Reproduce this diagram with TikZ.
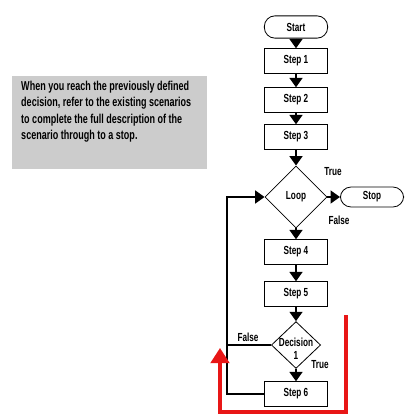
\documentclass[tikz,border=0pt]{standalone}
\usepackage{fontspec}
\newfontfamily\chartfont{Liberation Sans}[FakeStretch=0.7]
\usepackage{xcolor}
\usepackage{tikz}
\usetikzlibrary{arrows.meta}
\usetikzlibrary{shapes.geometric}
\definecolor{notered}{RGB}{232,22,22}

\begin{document}
\begin{tikzpicture}[
    x=0.03cm, y=-0.03cm,
    >={Triangle[length=8pt,width=11pt]},
    font={\chartfont\bfseries\fontsize{10}{11}\selectfont},
    stepbox/.style={draw, line width=0.7pt, minimum width=54pt,
        minimum height=21pt, inner sep=0pt},
    endbox/.style={draw, line width=0.7pt, rounded corners=9pt,
        minimum width=54pt, minimum height=19pt, inner sep=0pt},
    test/.style={draw, diamond, line width=0.7pt, inner sep=0pt},
    flow/.style={->, line width=1.6pt}
]
\useasboundingbox (0,0) rectangle (420,420);

% Note
\fill[gray!40] (12,76) rectangle (207,169);
\node[anchor=north west, align=left, inner sep=0pt,
    font={\chartfont\bfseries\fontsize{11}{14}\selectfont}]
    (note) at (21,81)
    {When you reach the previously defined\\
     decision, refer to the existing scenarios\\
     to complete the full description of the\\
     scenario through to a stop.};

% Flow chart
\node[endbox] (start) at (296,27) {Start};
\node[stepbox] (s1) at (296,61) {Step 1};
\node[stepbox] (s2) at (296,100) {Step 2};
\node[stepbox] (s3) at (296,137) {Step 3};
\node[test, minimum width=53pt, minimum height=53pt] (loop) at (296,197) {Loop};
\node[endbox, minimum height=17pt] (stop) at (372,197) {Stop};
\node[stepbox] (s4) at (296,252) {Step 4};
\node[stepbox] (s5) at (296,294) {Step 5};
\node[test, minimum width=42pt, minimum height=40pt,
    label={[align=center, yshift=-3pt]center:Decision\\1}] (dec) at (296,345) {};
\node[stepbox] (s6) at (296,394) {Step 6};
\coordinate (back) at (227,0);

% Labels
\node (looptrue) at (333,172) {True};
\node (loopfalse) at (339,220) {False};
\node (decfalse) at (248,337) {False};
\node (dectrue) at (320,365) {True};

% Arrows
\draw[flow] (start) -- (s1);
\draw[flow] (s1) -- (s2);
\draw[flow] (s2) -- (s3);
\draw[flow] (s3) -- (loop);
\draw[flow] (loop) -- (stop);
\draw[flow] (loop) -- (s4);
\draw[flow] (s4) -- (s5);
\draw[flow] (s5) -- (dec);
\draw[flow] (dec) -- (s6);

% Back to the loop
\draw[line width=1.6pt] (dec.west) -- (dec.west -| back);
\draw[flow] (s6.west) -- (s6.west -| back) |- (loop.west);

% Red marker
\coordinate (r1) at (346,315);
\coordinate (r2) at (220,412);
\coordinate (r3) at (220,348);
\draw[notered, line width=2.6pt, -{Triangle[length=13pt,width=16pt]}]
    (r1) |- (r2) -- (r3);
\end{tikzpicture}
\end{document}
